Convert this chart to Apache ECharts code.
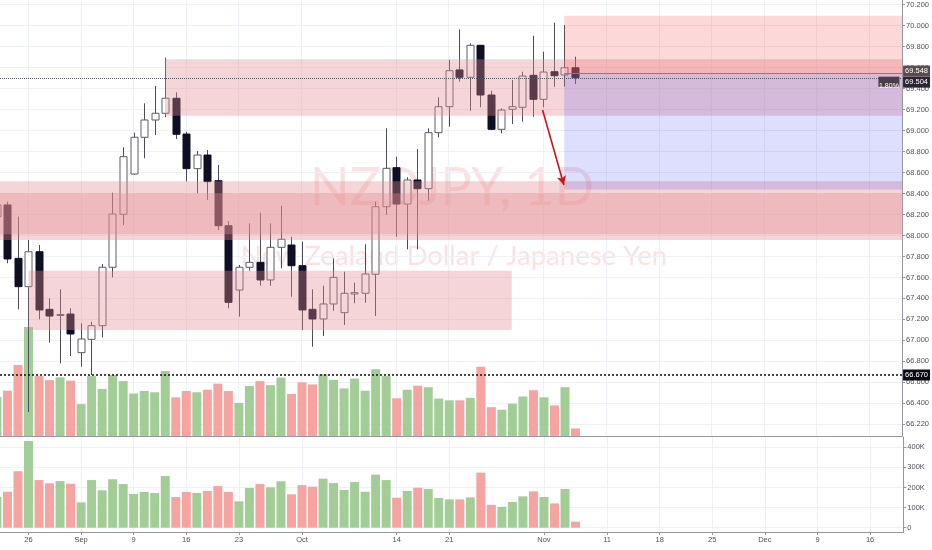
<!DOCTYPE html>
<html><head><meta charset="utf-8">
<script src="https://cdn.jsdelivr.net/npm/echarts@6/dist/echarts.min.js"></script>
<style>html,body{margin:0;padding:0;background:#fff}#c{width:932px;height:550px}</style>
</head><body><div id="c"></div>
<script>
// ---- data (trading days, index 0 = Aug 21 2019) ----
const dates = ['Aug 21','Aug 22','Aug 23','Aug 26','Aug 27','Aug 28','Aug 29','Aug 30','Sep 2','Sep 3','Sep 4','Sep 5','Sep 6','Sep 9','Sep 10','Sep 11','Sep 12','Sep 13','Sep 16','Sep 17','Sep 18','Sep 19','Sep 20','Sep 23','Sep 24','Sep 25','Sep 26','Sep 27','Sep 30','Oct 1','Oct 2','Oct 3','Oct 4','Oct 7','Oct 8','Oct 9','Oct 10','Oct 11','Oct 14','Oct 15','Oct 16','Oct 17','Oct 18','Oct 21','Oct 22','Oct 23','Oct 24','Oct 25','Oct 28','Oct 29','Oct 30','Oct 31','Nov 1','Nov 4','Nov 5','Nov 6'];
const openV  = [68.180,68.291,67.782,67.512,67.845,67.296,67.238,67.251,66.883,67.010,67.140,67.697,68.202,68.586,68.936,69.101,69.165,69.308,68.967,68.637,68.767,68.522,68.093,67.480,67.697,67.744,67.576,67.887,67.909,67.712,67.296,67.204,67.347,67.264,67.442,67.449,67.630,68.274,68.646,68.300,68.529,68.446,68.980,69.228,69.578,69.508,69.813,69.339,69.012,69.203,69.222,69.527,69.298,69.561,69.530,69.599];
const closeV = [68.291,67.776,67.512,67.845,67.290,67.232,67.247,67.061,67.013,67.140,67.697,68.205,68.751,68.936,69.101,69.165,69.308,68.965,68.637,68.767,68.513,68.093,67.363,67.697,67.744,67.576,67.887,67.964,67.712,67.290,67.204,67.347,67.601,67.449,67.455,67.633,68.274,68.640,68.300,68.529,68.446,68.980,69.228,69.571,69.508,69.813,69.339,69.012,69.196,69.228,69.520,69.298,69.558,69.523,69.599,69.504];
const lowV   = [68.120,67.735,67.296,66.317,67.201,66.978,66.781,66.851,66.749,66.670,67.029,67.601,68.100,68.577,68.736,68.958,69.127,68.920,68.513,68.402,68.338,68.052,67.306,67.226,67.664,67.521,67.521,67.687,67.416,67.099,66.940,67.042,67.283,67.147,67.354,67.359,67.232,68.195,67.988,67.868,67.868,68.332,68.936,69.037,69.466,69.190,69.222,69.005,68.974,69.063,69.085,69.132,69.222,69.418,69.418,69.444];
const highV  = [68.330,68.322,68.179,67.957,67.909,67.401,67.487,67.306,67.163,67.178,67.728,68.408,68.841,68.980,69.260,69.425,69.695,69.365,68.989,68.805,68.815,68.672,68.138,67.719,68.116,68.217,68.116,68.284,67.988,67.941,67.487,67.521,67.782,67.655,67.550,67.916,68.322,69.022,68.751,68.555,68.824,69.022,69.317,69.673,69.965,69.832,69.816,69.380,69.212,69.482,69.561,69.904,69.752,70.028,70.006,69.704];
const volumeK = [154,179,281,431,237,221,232,219,126,237,186,241,217,168,178,173,257,153,178,173,183,207,178,131,198,217,201,231,166,212,204,244,222,188,227,179,264,237,149,183,199,193,148,141,141,151,274,114,104,128,156,181,153,121,193,30];

// ---- axis ticks ----
const dateTickIdx    = [3,8,13,18,23,29,38,43,52,58,63,68,73,78,83];
const dateTickLabels = ['26','Sep','9','16','23','Oct','14','21','Nov','11','18','25','Dec','9','16'];
const priceTicks      = [66.2,66.4,66.6,66.8,67.0,67.2,67.4,67.6,67.8,68.0,68.2,68.4,68.6,68.8,69.0,69.2,69.4,69.6,69.8,70.0,70.2];
const priceTickLabels = ['66.220','66.400','66.600','66.800','67.000','67.200','67.400','67.600','67.800','68.000','68.200','68.400','68.600','68.800','69.000','69.200','69.400','69.600','69.800','70.000','70.200'];
const volTicks      = [0,100000,200000,300000,400000];
const volTickLabels = ['0','100K','200K','300K','400K'];

// ---- drawn zones (start index, end index, top, bottom) ----
const zoneStart  = [16, 0.291, 0.291, 3];
const zoneEnd    = [86.16, 86.16, 86.16, 49];
const zoneTop    = [69.679, 68.516, 68.402, 67.664];
const zoneBottom = [69.142, 68.011, 67.957, 67.099];

// ---- short position tool & levels ----
const positionStart = 54;
const stopPrice   = 70.095;
const entryPrice  = 69.548;
const lastPrice   = 69.504;
const targetPrice = 68.439;
const supportLevel = 66.670;
const pctText = '1.80%';
const arrowFrom = [51.94, 69.196];
const arrowTo   = [53.97, 68.481];

// ---- layout ----
const X_MIN = 0.291, X_MAX = 86.16;
const Y_MIN = 66.0885, Y_MAX = 70.2448;
const GRID_RIGHT = 28.7;
const FONT = 'Liberation Sans';
const AXIS_COLOR = '#9598a1', LABEL_COLOR = '#50535e', SPLIT_COLOR = '#eef1f6';
const GREEN = '#a3cd97', RED = '#f6a4a1';

const candleData = dates.map((d, i) => [i, openV[i], closeV[i], lowV[i], highV[i]]);
const volData = volumeK.map((v, i) => ({ value: [i, v * 1000], itemStyle: { color: closeV[i] >= openV[i] ? GREEN : RED } }));

function findIdx(arr, v) { return arr.findIndex(t => Math.abs(t - v) < 1e-6); }

function renderCandle(params, api) {
  const x = api.value(0), o = api.value(1), c = api.value(2), l = api.value(3), h = api.value(4);
  const pO = api.coord([x, o]), pC = api.coord([x, c]), pL = api.coord([x, l]), pH = api.coord([x, h]);
  const w = Math.round(api.size([1, 0])[0] * 0.62);
  const up = c >= o;
  const xc = Math.round(pO[0]) + 0.5;
  const top = Math.min(pO[1], pC[1]), bot = Math.max(pO[1], pC[1]);
  const wick = '#4a4d58';
  return { type: 'group', children: [
    { type: 'line', shape: { x1: xc, y1: pH[1], x2: xc, y2: pL[1] }, style: { stroke: wick, lineWidth: 1 } },
    { type: 'rect', shape: { x: xc - w / 2, y: top, width: w, height: Math.max(bot - top, 1) },
      style: { fill: up ? '#ffffff' : '#0e0f22', stroke: up ? '#5a5e6a' : '#0e0f22', lineWidth: 1 } }
  ] };
}

function xAxisCfg(gi, showLabels, showLine, showSplit) {
  return { type: 'value', gridIndex: gi, min: X_MIN, max: X_MAX,
    axisLine: { show: showLine, onZero: false, lineStyle: { color: AXIS_COLOR } },
    axisTick: { show: showLabels, customValues: dateTickIdx, length: 3, lineStyle: { color: AXIS_COLOR } },
    axisLabel: { show: showLabels, customValues: dateTickIdx, formatter: v => dateTickLabels[findIdx(dateTickIdx, v)], fontSize: 7.5, color: LABEL_COLOR, margin: 4, fontFamily: FONT },
    splitLine: { show: showSplit, lineStyle: { color: SPLIT_COLOR } } };
}

const ZONE_COLOR = 'rgba(228,138,144,0.36)';
const zoneAreas = zoneStart.map((s, k) => [
  { xAxis: s, yAxis: zoneTop[k], itemStyle: { color: ZONE_COLOR } },
  { xAxis: zoneEnd[k], yAxis: zoneBottom[k] }
]);
zoneAreas.push([{ xAxis: positionStart, yAxis: stopPrice, itemStyle: { color: 'rgba(245,60,62,0.2)' } }, { xAxis: X_MAX, yAxis: entryPrice }]);
zoneAreas.push([{ xAxis: positionStart, yAxis: entryPrice, itemStyle: { color: 'rgba(33,33,243,0.15)' } }, { xAxis: X_MAX, yAxis: targetPrice }]);

function priceLabel(text, bg, offY) {
  return { show: true, position: 'end', formatter: text, backgroundColor: bg, color: '#ffffff', fontSize: 7.5, fontFamily: FONT, padding: [2, 2, 1, 2], distance: 1, offset: [0, offY || 0] };
}

const option = {
  animation: false,
  backgroundColor: '#ffffff',
  textStyle: { fontFamily: FONT },
  graphic: [
    { type: 'text', x: 452, y: 188, z: 0, silent: true, style: { text: 'NZDJPY, 1D', font: '52px Lato', fill: 'rgba(236,70,80,0.16)', align: 'center', verticalAlign: 'middle' } },
    { type: 'text', x: 454, y: 256, z: 0, silent: true, style: { text: 'New Zealand Dollar / Japanese Yen', font: '27.5px Lato', fill: 'rgba(236,70,80,0.16)', align: 'center', verticalAlign: 'middle' } }
  ],
  grid: [
    { left: 0, right: GRID_RIGHT, top: 0, height: 436 },
    { left: 0, right: GRID_RIGHT, top: 296, height: 140 },
    { left: 0, right: GRID_RIGHT, top: 437, height: 95 }
  ],
  xAxis: [ xAxisCfg(0, false, true, true), xAxisCfg(1, false, false, false), xAxisCfg(2, true, true, true) ],
  yAxis: [
    { type: 'value', gridIndex: 0, position: 'right', min: Y_MIN, max: Y_MAX,
      axisLine: { show: true, onZero: false, lineStyle: { color: AXIS_COLOR } },
      axisTick: { show: true, customValues: priceTicks, length: 3, lineStyle: { color: AXIS_COLOR } },
      axisLabel: { customValues: priceTicks, formatter: v => priceTickLabels[findIdx(priceTicks, v)], fontSize: 7.5, color: LABEL_COLOR, margin: 4, fontFamily: FONT },
      splitLine: { show: true, lineStyle: { color: SPLIT_COLOR } } },
    { type: 'value', gridIndex: 1, min: 0, max: 140 / 0.2529 * 1000, show: false, splitLine: { show: false } },
    { type: 'value', gridIndex: 2, position: 'right', min: -21393, max: 451244,
      axisLine: { show: true, onZero: false, lineStyle: { color: AXIS_COLOR } },
      axisTick: { show: true, customValues: volTicks, length: 3, lineStyle: { color: AXIS_COLOR } },
      axisLabel: { customValues: volTicks, formatter: v => volTickLabels[findIdx(volTicks, v)], fontSize: 7.5, color: LABEL_COLOR, margin: 4, fontFamily: FONT },
      splitLine: { show: true, lineStyle: { color: SPLIT_COLOR } } }
  ],
  series: [
    { type: 'bar', name: 'vol-overlay', xAxisIndex: 1, yAxisIndex: 1, data: volData, barWidth: 9, z: 1, silent: true },
    { type: 'custom', name: 'NZDJPY', xAxisIndex: 0, yAxisIndex: 0, data: candleData, renderItem: renderCandle, clip: true, z: 3,
      encode: { x: 0, y: [1, 2, 3, 4] } },
    { type: 'line', name: 'zones', xAxisIndex: 0, yAxisIndex: 0, data: [], z: 5, silent: true,
      markArea: { silent: true, z: 5, data: zoneAreas } },
    { type: 'line', name: 'levels', xAxisIndex: 0, yAxisIndex: 0, data: [], z: 6, silent: true,
      markLine: { silent: true, z: 6, symbol: ['none', 'none'], animation: false,
        data: [
          { yAxis: supportLevel, lineStyle: { color: '#111111', type: [2, 2], width: 1.5 }, label: priceLabel(supportLevel.toFixed(3), '#0b0b16') },
          { yAxis: lastPrice, lineStyle: { color: '#555860', type: [1, 1], width: 1 }, label: priceLabel(lastPrice.toFixed(3), '#2a2434', 4) },
          [ { coord: [positionStart, entryPrice], lineStyle: { color: '#7d808a', type: 'solid', width: 1 }, label: priceLabel(entryPrice.toFixed(3), '#5c4a4f', -2) }, { coord: [X_MAX, entryPrice] } ],
          { yAxis: stopPrice, lineStyle: { opacity: 0 }, label: priceLabel(stopPrice.toFixed(3), '#d12f33') },
          { yAxis: targetPrice, lineStyle: { opacity: 0 }, label: priceLabel(targetPrice.toFixed(3), '#1d1f3a', -1) },
          [ { coord: arrowFrom, symbol: 'none', lineStyle: { color: '#c8171b', width: 1.6, type: 'solid' }, label: { show: false } },
            { coord: arrowTo, symbol: 'arrow', symbolSize: [7, 9] } ]
        ] },
      markPoint: { silent: true, z: 7, animation: false,
        data: [ { coord: [X_MAX - 1.25, lastPrice], symbol: 'rect', symbolSize: [21, 10], symbolOffset: [0, 4],
          itemStyle: { color: '#4b3e48' }, label: { show: true, formatter: pctText, color: '#ffffff', fontSize: 7, fontFamily: FONT, offset: [0, 4] } } ] } },
    { type: 'bar', name: 'volume', xAxisIndex: 2, yAxisIndex: 2, data: volData, barWidth: 9, z: 2, silent: true }
  ]
};
const chart = echarts.init(document.getElementById('c'));
chart.setOption(option);
</script></body></html>
